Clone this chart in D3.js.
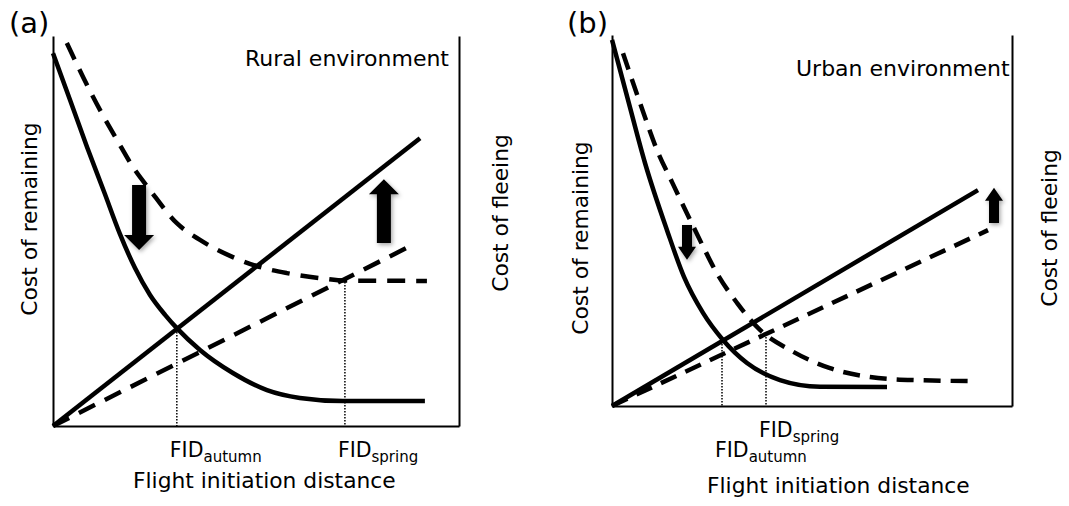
<!DOCTYPE html>
<html>
<head>
<meta charset="utf-8">
<script src="https://cdn.jsdelivr.net/npm/d3@7"></script>
<style>
  html, body { margin: 0; padding: 0; background: #fff; }
  svg { display: block; }
  text { font-family: "DejaVu Sans", Verdana, sans-serif; fill: #000; }
</style>
</head>
<body>
<svg id="chart" width="1069" height="506"></svg>
<script>
// ---- Rural environment (panel a) ----
const ruralRemainingAutumn = [[0, 9.56], [0.42, 8.36], [0.84, 7.15], [1.26, 6.0], [1.65, 4.92], [2.02, 4.05],
  [2.39, 3.36], [2.76, 2.85], [3.05, 2.51], [3.62, 1.95], [4.43, 1.36], [5.27, 0.92], [6.08, 0.72],
  [7.14, 0.64], [9.16, 0.64]];
const ruralRemainingSpring = [[0.34, 9.82], [0.74, 8.95], [1.16, 8.10], [1.58, 7.33], [1.97, 6.64], [2.39, 6.05],
  [3.05, 5.2], [3.62, 4.77], [4.43, 4.33], [5.02, 4.10], [5.76, 3.92], [6.58, 3.79], [7.2, 3.73], [9.21, 3.72]];
const ruralFleeingAutumn = [[0, 0], [9.04, 7.38]];
const ruralFleeingSpring = [[0, 0], [8.87, 4.65]];
const ruralFID = [3.05, 7.19];              // autumn, spring
const ruralShifts = [[2.12, 6.18, 4.51], [8.15, 4.69, 6.33]]; // x, tail, tip

// ---- Urban environment (panel b) ----
const urbanRemainingAutumn = [[0, 9.87], [0.4, 8.25], [0.825, 6.55], [1.375, 4.74], [1.8, 3.48], [2.275, 2.51],
  [2.775, 1.78], [3.375, 1.16], [4.2, 0.70], [5.2, 0.52], [6.875, 0.51]];
const urbanRemainingSpring = [[0.275, 9.51], [0.7, 8.17], [1.125, 6.90], [1.525, 5.98], [1.95, 5.02], [2.3, 4.25],
  [2.6, 3.62], [3.125, 2.78], [3.7, 2.05], [4.45, 1.51], [5.45, 1.02], [6.45, 0.78], [7.525, 0.70], [9.125, 0.67]];
const urbanFleeingAutumn = [[0, 0], [9.15, 5.82]];
const urbanFleeingSpring = [[0, 0], [9.4, 4.74]];
const urbanFID = [2.75, 3.85];              // autumn, spring
const urbanShifts = [[1.875, 4.88, 3.94], [9.55, 4.93, 5.88]];

const seasonLabels = ["autumn", "spring"];
const axisTitles = ["Cost of remaining", "Cost of fleeing", "Flight initiation distance"];

const svg = d3.select("#chart");
svg.append("rect").attr("width", 1069).attr("height", 506).attr("fill", "#fff");

const defs = svg.append("defs");
const shadow = defs.append("filter").attr("id", "arrowShadow")
  .attr("x", "-50%").attr("y", "-50%").attr("width", "200%").attr("height", "200%");
shadow.append("feDropShadow").attr("dx", 1.5).attr("dy", 2).attr("stdDeviation", 2)
  .attr("flood-color", "#000").attr("flood-opacity", 0.35);

function lineValueAt(line, x) {
  const [p0, p1] = line;
  return p0[1] + (p1[1] - p0[1]) * (x - p0[0]) / (p1[0] - p0[0]);
}

function drawPanel(cfg) {
  const x = d3.scaleLinear().domain([0, 10]).range([cfg.left, cfg.right]);
  const y = d3.scaleLinear().domain([0, 10]).range([cfg.bottom, cfg.top]);
  const g = svg.append("g");

  // axes: left, bottom and right frame lines, no ticks
  const axStyle = sel => sel.select(".domain").attr("stroke", "#000").attr("stroke-width", 2);
  g.append("g").attr("transform", `translate(${cfg.left},0)`)
    .call(d3.axisLeft(y).ticks(0).tickSizeOuter(0)).call(axStyle);
  g.append("g").attr("transform", `translate(${cfg.right},0)`)
    .call(d3.axisRight(y).ticks(0).tickSizeOuter(0)).call(axStyle);
  g.append("g").attr("transform", `translate(0,${cfg.bottom})`)
    .call(d3.axisBottom(x).ticks(0).tickSizeOuter(0)).call(axStyle);

  const curve = d3.line().x(d => x(d[0])).y(d => y(d[1])).curve(d3.curveMonotoneX);
  const straight = d3.line().x(d => x(d[0])).y(d => y(d[1]));

  // FID guide lines
  cfg.fid.forEach((f, i) => {
    const line = i === 0 ? cfg.fleeAutumn : cfg.fleeSpring;
    g.append("line")
      .attr("x1", x(f)).attr("x2", x(f))
      .attr("y1", y(lineValueAt(line, f))).attr("y2", y(0))
      .attr("stroke", "#000").attr("stroke-width", 1.5).attr("stroke-dasharray", "1.5,1.5");
  });

  const dash = cfg.dash;
  g.append("path").attr("d", straight(cfg.fleeSpring)).attr("fill", "none")
    .attr("stroke", "#000").attr("stroke-width", 4.5).attr("stroke-dasharray", dash);
  g.append("path").attr("d", curve(cfg.remainSpring)).attr("fill", "none")
    .attr("stroke", "#000").attr("stroke-width", 4.5).attr("stroke-dasharray", dash);
  g.append("path").attr("d", straight(cfg.fleeAutumn)).attr("fill", "none")
    .attr("stroke", "#000").attr("stroke-width", 4.5);
  g.append("path").attr("d", curve(cfg.remainAutumn)).attr("fill", "none")
    .attr("stroke", "#000").attr("stroke-width", 4.5);

  // block arrows showing the seasonal shift
  cfg.shifts.forEach(([ax, from, to]) => {
    const cx = x(ax), y0 = y(from), y1 = y(to);
    const dir = Math.sign(y1 - y0);
    const { sw, hw, hl } = cfg.arrow;
    const yb = y1 - dir * hl;
    const p = d3.path();
    p.moveTo(cx - sw, y0); p.lineTo(cx - sw, yb); p.lineTo(cx - hw, yb); p.lineTo(cx, y1);
    p.lineTo(cx + hw, yb); p.lineTo(cx + sw, yb); p.lineTo(cx + sw, y0); p.closePath();
    g.append("path").attr("d", p.toString()).attr("fill", "#000").attr("filter", "url(#arrowShadow)");
  });

  // texts
  g.append("text").attr("x", cfg.tagX).attr("y", 33).style("font-size", "29px").text(cfg.tag);
  g.append("text").attr("x", cfg.envX).attr("y", cfg.envY).style("font-size", "22px").text(cfg.env);
  g.append("text").attr("transform", `translate(${cfg.yLeft[0]},${cfg.yLeft[1]}) rotate(-90)`)
    .attr("text-anchor", "middle").style("font-size", "21.8px").text(axisTitles[0]);
  g.append("text").attr("transform", `translate(${cfg.yRight[0]},${cfg.yRight[1]}) rotate(-90)`)
    .attr("text-anchor", "middle").style("font-size", "21.8px").text(axisTitles[1]);
  g.append("text").attr("x", cfg.xTitle[0]).attr("y", cfg.xTitle[1]).style("font-size", "21.8px").text(axisTitles[2]);

  cfg.fid.forEach((f, i) => {
    const t = g.append("text").attr("x", x(f) - 7).attr("y", cfg.fidY[i]).style("font-size", "20.5px");
    t.append("tspan").text("FID");
    t.append("tspan").attr("dy", 5).style("font-size", "15px").text(seasonLabels[i]);
  });
}

drawPanel({
  left: 53, right: 459, top: 36, bottom: 426,
  remainAutumn: ruralRemainingAutumn, remainSpring: ruralRemainingSpring,
  fleeAutumn: ruralFleeingAutumn, fleeSpring: ruralFleeingSpring,
  fid: ruralFID, shifts: ruralShifts,
  dash: "18,11", arrow: { sw: 7, hw: 15, hl: 15 },
  tag: "(a)", tagX: 9, env: "Rural environment", envX: 245, envY: 66,
  yLeft: [37, 219], yRight: [508, 213], xTitle: [133, 488], fidY: [457, 457]
});

drawPanel({
  left: 612, right: 1012, top: 35, bottom: 406,
  remainAutumn: urbanRemainingAutumn, remainSpring: urbanRemainingSpring,
  fleeAutumn: urbanFleeingAutumn, fleeSpring: urbanFleeingSpring,
  fid: urbanFID, shifts: urbanShifts,
  dash: "17,10", arrow: { sw: 5, hw: 9, hl: 13 },
  tag: "(b)", tagX: 567, env: "Urban environment", envX: 796, envY: 76,
  yLeft: [588, 238], yRight: [1057, 228], xTitle: [707, 493], fidY: [457, 437]
});
</script>
</body>
</html>
